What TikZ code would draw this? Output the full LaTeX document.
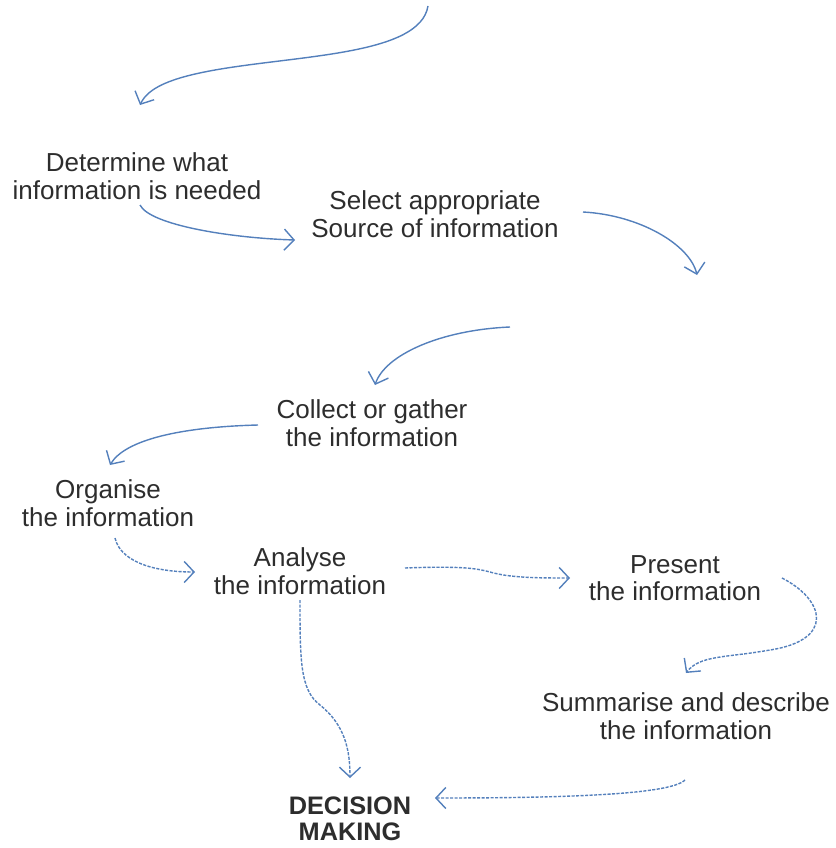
\documentclass[tikz,border=0pt]{standalone}
\usepackage{fontspec}
\setmainfont{Liberation Sans}
\usetikzlibrary{arrows.meta,calc}

\definecolor{flowblue}{RGB}{84,128,188}
\definecolor{textgrey}{RGB}{45,45,45}
\tikzset{
	infotext/.style={align=center,text=textgrey,font=\fontsize{18.5}{19.5}\selectfont},
	flow/.style={draw=flowblue,line width=1pt,-{Straight Barb[length=7pt,width=15pt]}},
	flowdashed/.style={flow,dash pattern=on 2.2pt off 1pt}
}

\begin{document}
\begin{tikzpicture}[x=0.025cm,y=-0.025cm]
	\useasboundingbox (0,0) rectangle (835,848);

	% Steps of the process
	\node[infotext] (determine) at (137,176) {Determine what\\information is needed};
	\node[infotext] (select) at (435,214) {Select appropriate\\Source of information};
	\node[infotext] (collect) at (372,423) {Collect or gather\\the information};
	\node[infotext] (organise) at (108,503) {Organise\\the information};
	\node[infotext] (analyse) at (300,571) {Analyse\\the information};
	\node[infotext] (present) at (675,578) {Present\\the information};
	\node[infotext] (summarise) at (686,716) {Summarise and describe\\the information};
	\node[infotext,inner sep=1pt,font=\fontsize{18}{18.5}\selectfont\bfseries] (decision) at (350,819) {DECISION\\MAKING};

	% Loose ends (page breaks)
	\coordinate (topstart) at (428,6);
	\coordinate (breakend) at (697,275);
	\coordinate (breakstart) at (510,327);

	% Solid arrows
	\draw[flow] (topstart) .. controls (420,55) and (300,55) .. (215,70) .. controls (170,78) and (148,88) .. ($(determine)+(3,-71)$);
	\draw[flow] ($(determine)+(3,29)$) .. controls (150,225) and (230,238) .. ($(select)+(-140,26)$);
	\draw[flow] ($(select)+(148,-2)$) .. controls (640,215) and (690,245) .. (breakend);
	\draw[flow] (breakstart) .. controls (440,330) and (385,355) .. ($(collect)+(3,-38)$);
	\draw[flow] ($(collect)+(-114,2)$) .. controls (180,427) and (125,440) .. ($(organise)+(2,-38)$);

	% Dashed arrows
	\draw[flowdashed] ($(organise)+(7,35)$) .. controls (120,560) and (150,572) .. ($(analyse)+(-105,1)$);
	\draw[flowdashed] ($(analyse)+(105,-3)$) .. controls (460,566) and (475,568) .. (490,572) .. controls (510,578) and (540,578) .. ($(present)+(-105,0)$);
	\draw[flowdashed] ($(present)+(107,0)$) .. controls (825,600) and (835,640) .. (770,650) .. controls (725,658) and (700,655) .. ($(summarise)+(0,-43)$);
	\draw[flowdashed] ($(analyse)+(0,29)$) .. controls (300,660) and (300,690) .. (320,705) .. controls (345,725) and (350,750) .. ($(decision)+(0,-41)$);
	\draw[flowdashed] ($(summarise)+(-1,64)$) .. controls (670,795) and (560,798) .. ($(decision)+(85,-21)$);
\end{tikzpicture}
\end{document}
